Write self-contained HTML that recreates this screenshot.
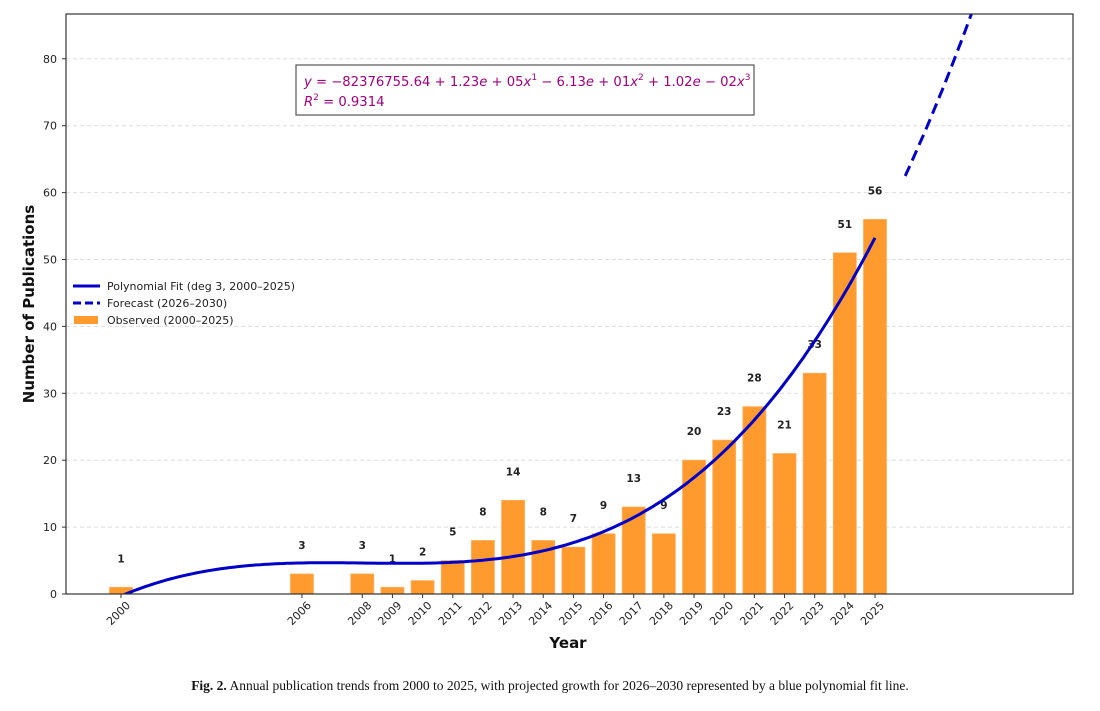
<!DOCTYPE html>
<html><head><meta charset="utf-8"><style>
body{margin:0;background:#fff;width:1100px;height:706px;overflow:hidden}
svg text{font-family:"DejaVu Sans","Liberation Sans",sans-serif}
svg text.cap{font-family:"Liberation Serif",serif}
</style></head><body>
<svg id="chart" width="1100" height="706" xmlns="http://www.w3.org/2000/svg">
<g id="grid"></g><g id="bars"></g><g id="labels"></g><g id="lines"></g><g id="axes"></g>
<rect x="66" y="14" width="1007" height="580" fill="none" stroke="#333" stroke-width="1.2"/>
<g>
<rect x="296" y="65" width="458" height="50" fill="#fff" stroke="#555" stroke-width="1.2"/>
<text x="304" y="86" font-size="13.2" fill="#a0007f"><tspan font-style="italic">y</tspan> = −82376755.64 + 1.23<tspan font-style="italic">e</tspan> + 05<tspan font-style="italic">x</tspan><tspan font-size="9" dy="-6">1</tspan><tspan dy="6"> − 6.13</tspan><tspan font-style="italic">e</tspan> + 01<tspan font-style="italic">x</tspan><tspan font-size="9" dy="-6">2</tspan><tspan dy="6"> + 1.02</tspan><tspan font-style="italic">e</tspan> − 02<tspan font-style="italic">x</tspan><tspan font-size="9" dy="-6">3</tspan></text>
<text x="304" y="106" font-size="13.2" fill="#a0007f"><tspan font-style="italic">R</tspan><tspan font-size="9" dy="-6">2</tspan><tspan dy="6"> = 0.9314</tspan></text>
</g>
<g>
<line x1="73" y1="286" x2="100" y2="286" stroke="#0000c8" stroke-width="3"/>
<text x="107" y="290" font-size="11" fill="#222">Polynomial Fit (deg 3, 2000–2025)</text>
<line x1="73" y1="303" x2="100" y2="303" stroke="#0000c8" stroke-width="3" stroke-dasharray="8,4"/>
<text x="107" y="307" font-size="11" fill="#222">Forecast (2026–2030)</text>
<rect x="74" y="316" width="24" height="8" fill="#ff9a2e"/>
<text x="107" y="324" font-size="11" fill="#222">Observed (2000–2025)</text>
</g>
<text x="568" y="648" font-size="15" font-weight="bold" text-anchor="middle" fill="#111">Year</text>
<text transform="translate(34,304) rotate(-90)" font-size="15" font-weight="bold" text-anchor="middle" fill="#111">Number of Publications</text>
<text class="cap" x="550" y="690" font-size="13.5" text-anchor="middle" fill="#111"><tspan font-weight="bold">Fig. 2.</tspan> Annual publication trends from 2000 to 2025, with projected growth for 2026–2030 represented by a blue polynomial fit line.</text>
</svg>
<script>
const years=[2000,2006,2008,2009,2010,2011,2012,2013,2014,2015,2016,2017,2018,2019,2020,2021,2022,2023,2024,2025];
const counts=[1,3,3,1,2,5,8,14,8,7,9,13,9,20,23,28,21,33,51,56];
const yTicks=[0,10,20,30,40,50,60,70,80];
const forecastYears=[2026,2030];
const NS="http://www.w3.org/2000/svg";
const X=v=>121+(v-2000)*30.16;
const Y=v=>594-v*6.69;
function mk(tag,at,parent){const e=document.createElementNS(NS,tag);for(const k in at)e.setAttribute(k,at[k]);document.getElementById(parent).appendChild(e);return e;}
yTicks.forEach(t=>{
  if(t>0){
  const g=mk('line',{x1:66,x2:1073,y1:Y(t),y2:Y(t),stroke:'#ddd','stroke-dasharray':'4,3'},'grid');
  
  
  }
  const tk=mk('line',{x1:62,x2:66,y1:Y(t),y2:Y(t),stroke:'#333'},'axes');
  
  
  const tl=mk('text',{x:57,y:Y(t)+4,'font-size':11,'text-anchor':'end',fill:'#222'},'axes');tl.textContent=t;
  
  
});
years.forEach((yr,i)=>{
  const b=mk('rect',{x:X(yr)-11.5,y:Y(counts[i]),width:23,height:Y(0)-Y(counts[i]),fill:'#ff9a2e',stroke:'#ffb060','stroke-width':0.8},'bars');
  
  
  const l=mk('text',{x:X(yr),y:Y(counts[i])-25,'font-size':10.5,'font-weight':'bold','text-anchor':'middle',fill:'#222'},'labels');l.textContent=counts[i];
  
  
  const tk=mk('line',{x1:X(yr),x2:X(yr),y1:594,y2:598,stroke:'#333'},'axes');
  
  
  const tl=mk('text',{x:0,y:0,'font-size':11,'text-anchor':'middle',fill:'#222',transform:`translate(${X(yr)},${616}) rotate(-45)`},'axes');tl.textContent=yr;
  
  
});
// least-squares cubic fit on observed data
const t=v=>(v-2012)/10;
const A=[[0,0,0,0],[0,0,0,0],[0,0,0,0],[0,0,0,0]],B=[0,0,0,0];
years.forEach((yr,i)=>{const p=[1,t(yr),t(yr)**2,t(yr)**3];for(let r=0;r<4;r++){B[r]+=p[r]*counts[i];for(let c=0;c<4;c++)A[r][c]+=p[r]*p[c];}});
for(let c=0;c<4;c++){for(let r=c+1;r<4;r++){const f=A[r][c]/A[c][c];for(let k=c;k<4;k++)A[r][k]-=f*A[c][k];B[r]-=f*B[c];}}
const co=[0,0,0,0];for(let r=3;r>=0;r--){let s=B[r];for(let k=r+1;k<4;k++)s-=A[r][k]*co[k];co[r]=s/A[r][r];}
const f=v=>co[0]+co[1]*t(v)+co[2]*t(v)**2+co[3]*t(v)**3;
function path(a,b){let d='';for(let i=0;i<=200;i++){const v=a+(b-a)*i/200;d+=(i?'L':'M')+X(v).toFixed(1)+','+Y(f(v)).toFixed(1);}return d;}
const cp=mk('clipPath',{id:'clip'},'lines');
const cr=document.createElementNS(NS,'rect');cr.setAttribute('x',66);cr.setAttribute('y',14);cr.setAttribute('width',1007);cr.setAttribute('height',580);cp.appendChild(cr);
const fit=mk('path',{d:path(2000,2025),fill:'none',stroke:'#0000c8','stroke-width':3,'clip-path':'url(#clip)'},'lines');


const fc=mk('path',{d:path(forecastYears[0],forecastYears[1]),fill:'none',stroke:'#0000c8','stroke-width':3,'stroke-dasharray':'11,6','clip-path':'url(#clip)'},'lines');


</script>
</body></html>
